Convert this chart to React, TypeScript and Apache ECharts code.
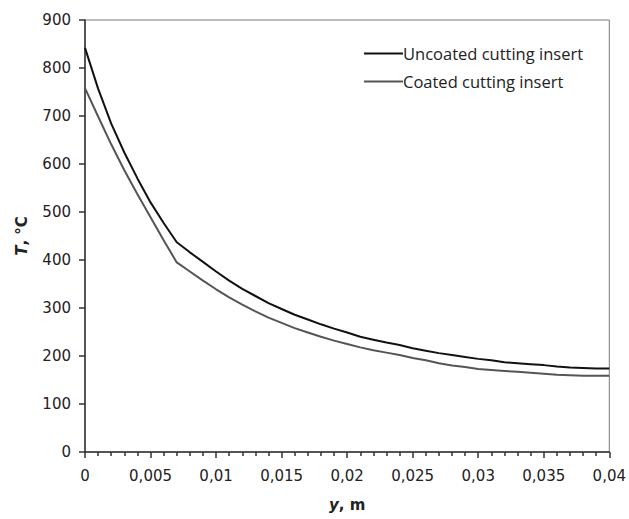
import React, { useEffect, useRef } from "react";
import * as echarts from "echarts";

const xValues = [
  0, 0.001, 0.002, 0.003, 0.004, 0.005, 0.006, 0.007, 0.008, 0.009, 0.01,
  0.011, 0.012, 0.013, 0.014, 0.015, 0.016, 0.017, 0.018, 0.019, 0.02,
  0.021, 0.022, 0.023, 0.024, 0.025, 0.026, 0.027, 0.028, 0.029, 0.03,
  0.031, 0.032, 0.033, 0.034, 0.035, 0.036, 0.037, 0.038, 0.039, 0.04,
];
const uncoated = [
  842, 757, 684, 624, 570, 520, 477, 437, 416, 396, 376,
  357, 340, 325, 310, 298, 286, 276, 266, 257, 249,
  240, 234, 228, 223, 216, 211, 206, 202, 198, 194,
  191, 187, 185, 183, 181, 178, 176, 175, 174, 174,
];
const coated = [
  758, 699, 641, 587, 537, 489, 441, 395, 376, 357, 339,
  322, 307, 293, 280, 269, 258, 249, 240, 232, 225,
  218, 212, 207, 202, 196, 191, 185, 180, 177, 173,
  171, 169, 167, 165, 163, 161, 160, 159, 159, 159,
];
const seriesNames = ["Uncoated cutting insert", "Coated cutting insert"];

const tickFont = "DejaVu Sans";

export default function App() {
  const ref = useRef<HTMLDivElement>(null);
  useEffect(() => {
    if (!ref.current) return;
    const chart = echarts.init(ref.current, null, { renderer: "svg" });
    const pair = (ys: number[]) => xValues.map((x, i) => [x, ys[i]]);
    chart.setOption({
      animation: false,
      backgroundColor: "#ffffff",
      grid: {
        left: 85,
        right: 19,
        top: 20,
        bottom: 67,
        show: true,
        borderColor: "#7a7a7a",
        borderWidth: 1,
      },
      legend: {
        orient: "vertical",
        left: 359,
        top: 40,
        itemWidth: 39,
        itemHeight: 2,
        itemGap: 11,
        icon: "rect",
        textStyle: {
          fontFamily: "Open Sans",
          fontSize: 16.5,
          color: "#222",
          lineHeight: 17,
          padding: [0, 0, 0, -5],
        },
        data: seriesNames,
      },
      xAxis: {
        type: "value",
        min: 0,
        max: 0.04,
        interval: 0.005,
        splitLine: { show: false },
        axisLine: { show: true, lineStyle: { color: "#333", width: 1.5 } },
        axisTick: { show: true, length: 6, lineStyle: { color: "#333", width: 1.5 } },
        minorTick: { show: true, splitNumber: 5, length: 4, lineStyle: { color: "#333", width: 1.5 } },
        axisLabel: {
          fontFamily: tickFont,
          fontSize: 15,
          color: "#222",
          margin: 16,
          formatter: (v: number) => String(Number(v.toFixed(3))).replace(".", ","),
        },
        name: "{i|y}{b|, m}",
        nameLocation: "middle",
        nameGap: 45,
        nameTextStyle: {
          rich: {
            i: { fontFamily: tickFont, fontSize: 15, fontWeight: "bold", fontStyle: "italic", color: "#222" },
            b: { fontFamily: tickFont, fontSize: 15, fontWeight: "bold", color: "#222" },
          },
        },
      },
      yAxis: {
        type: "value",
        min: 0,
        max: 900,
        interval: 100,
        splitLine: { show: false },
        axisLine: { show: true, lineStyle: { color: "#333", width: 1.5 } },
        axisTick: { show: true, length: 6, lineStyle: { color: "#333", width: 1.5 } },
        axisLabel: {
          fontFamily: tickFont,
          fontSize: 15,
          color: "#222",
          margin: 14,
        },
        name: "{i|T}{b|, °C}",
        nameLocation: "middle",
        nameGap: 56,
        nameTextStyle: {
          rich: {
            i: { fontFamily: tickFont, fontSize: 15, fontWeight: "bold", fontStyle: "italic", color: "#222" },
            b: { fontFamily: tickFont, fontSize: 15, fontWeight: "bold", color: "#222" },
          },
        },
      },
      series: [
        {
          name: seriesNames[0],
          type: "line",
          data: pair(uncoated),
          showSymbol: false,
          symbol: "none",
          smooth: false,
          itemStyle: { color: "#111111" },
          lineStyle: { color: "#111111", width: 2 },
        },
        {
          name: seriesNames[1],
          type: "line",
          data: pair(coated),
          showSymbol: false,
          symbol: "none",
          smooth: false,
          itemStyle: { color: "#555555" },
          lineStyle: { color: "#555555", width: 2 },
        },
      ],
    });
    return () => chart.dispose();
  }, []);
  return (
    <div
      ref={ref}
      style={{ position: "fixed", left: 0, top: 0, width: 629, height: 519, background: "#fff" }}
    />
  );
}
